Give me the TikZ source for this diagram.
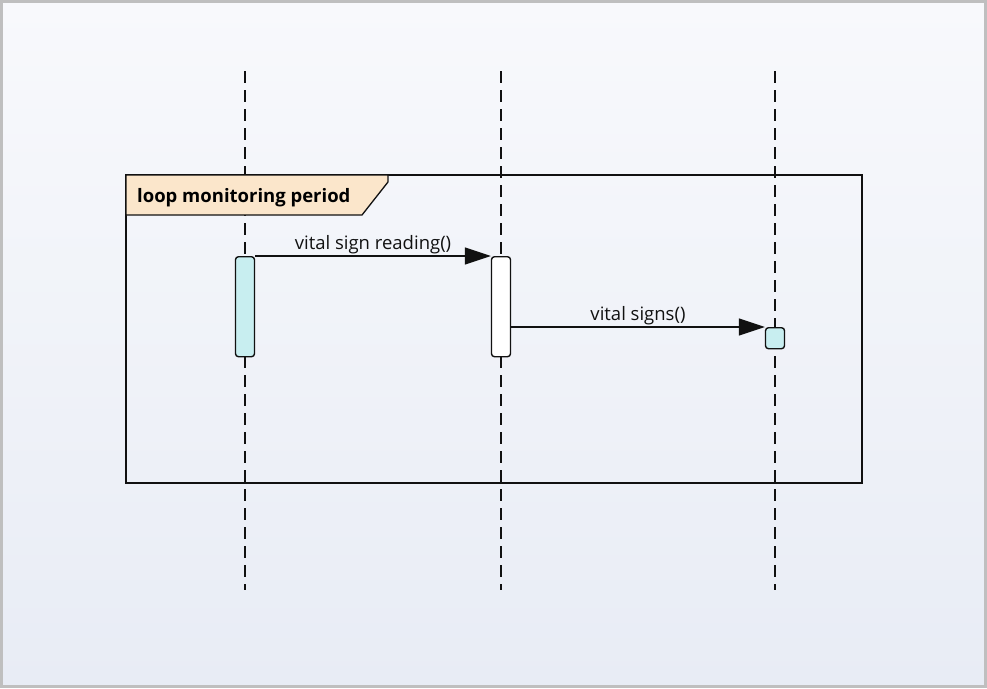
\documentclass[tikz,border=0pt]{standalone}
\usepackage{fontspec}
\setmainfont{Open Sans}
\usetikzlibrary{arrows.meta,positioning}
\definecolor{sqink}{HTML}{111111}
\definecolor{sqcyan}{HTML}{C8EEF0}
\definecolor{sqtag}{HTML}{FBE6CB}
\definecolor{sqedge}{HTML}{BFBFBF}
\definecolor{sqtop}{HTML}{F8F9FC}
\definecolor{sqbot}{HTML}{E8ECF5}

\begin{document}
\begin{tikzpicture}[
  x=1pt,y=-1pt,
  every node/.style={font=\fontsize{18.5}{20}\selectfont,inner sep=0pt},
  lifeline/.style={dash pattern=on 12pt off 7pt,line width=1.4pt,color=sqink},
  act/.style={draw=sqink,line width=1.4pt,rounded corners=3pt,minimum width=19pt,fill=white},
  msg/.style={-{Triangle[length=26pt,width=17pt]},line width=1.4pt,color=sqink},
  frame/.style={draw=sqink,line width=1.5pt}
]
% background
\fill[top color=sqtop,bottom color=sqbot,draw=sqedge,line width=3pt] (1.5,1.5) rectangle (985.5,686.5);
\useasboundingbox (0,0) rectangle (987,688);

% lifelines
\coordinate (l1top) at (245,71);  \coordinate (l1bot) at (245,590);
\coordinate (l2top) at (501,71);  \coordinate (l2bot) at (501,590);
\coordinate (l3top) at (775,71);  \coordinate (l3bot) at (775,590);
\draw[lifeline] (l1top) -- (l1bot);
\draw[lifeline] (l2top) -- (l2bot);
\draw[lifeline] (l3top) -- (l3bot);

% loop fragment
\draw[frame] (126,175) rectangle (862,483);
\fill[sqtag,draw=sqink,line width=1.3pt] (126,175) -- (388,175) -- (388,182) -- (362,215) -- (126,215) -- cycle;
\node[font=\fontsize{18.5}{20}\selectfont\bfseries,anchor=west] (tag) at (137,198) {loop monitoring period};

% activations
\node[act,fill=sqcyan,minimum height=100pt,anchor=north] (sensor) at (245,256) {};
\node[act,minimum height=100pt,anchor=north] (monitor) at (501,256) {};
\node[act,fill=sqcyan,minimum width=19pt,minimum height=21pt,anchor=north] (display) at (775,327) {};

% messages
\draw[msg] (sensor.north east) -- node[above=1.5pt] {vital sign reading()} (monitor.north west);
\draw[msg] (monitor.east |- display.north) -- node[above=1.5pt] {vital signs()} (display.north west);
\end{tikzpicture}
\end{document}
